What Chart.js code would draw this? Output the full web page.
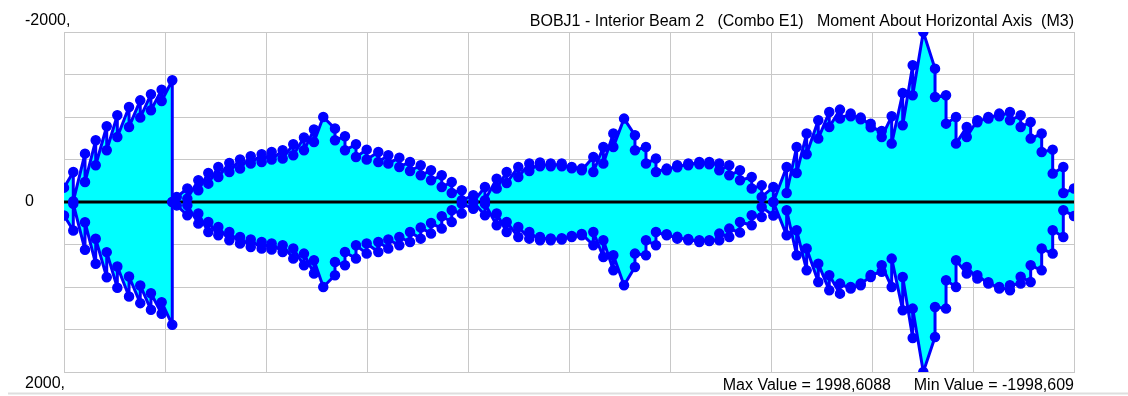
<!DOCTYPE html>
<html>
<head>
<meta charset="utf-8">
<script src="https://cdn.jsdelivr.net/npm/chart.js@4/dist/chart.umd.min.js"></script>
<style>
  html, body { margin: 0; padding: 0; background: #ffffff; }
  #wrap { width: 1128px; height: 396px; position: relative; }
</style>
</head>
<body>
<div id="wrap"><canvas id="c" width="1128" height="396"></canvas></div>
<script>
// Beam stations (0..100 along the member) and M3 moments for the two envelope edges.
const titleText = 'BOBJ1 - Interior Beam 2   (Combo E1)   Moment About Horizontal Axis  (M3)';
const maxLabel = 'Max Value = 1998,6088';
const minLabel = 'Min Value = -1998,609';
const yTickLabels = ['-2000,', '0', '2000,'];
const yTickValues = [-2000, 0, 2000];
const xRange = [0, 100];
const yRange = [-2000, 2000];

const topStations = [
  0, 0.92, 0.92, 2.08, 2.08, 3.14, 3.14, 4.23, 4.23, 5.28, 5.28, 6.44, 6.44, 7.55, 7.55, 8.61, 8.61, 9.67, 9.67, 10.72, 10.72,
  11.16, 12.21, 12.21, 13.30, 13.30, 14.29, 14.29, 15.28, 15.28, 16.37, 16.37, 17.43, 17.43, 18.49, 18.49, 19.57, 19.57,
  20.56, 20.56, 21.65, 21.65, 22.70, 22.70, 23.76, 23.76, 24.75, 24.75, 25.67, 26.83, 26.83, 27.82, 27.82, 28.91, 28.91,
  29.97, 29.97, 31.12, 31.12, 32.11, 32.11, 33.20, 33.20, 34.26, 34.26, 35.32, 35.32, 36.34, 36.34, 37.40, 37.40,
  38.39, 38.39, 39.38, 39.38, 40.52, 40.52,
  41.68, 41.68, 42.84, 42.84, 43.83, 43.83, 44.98, 44.98, 46.07, 46.07, 47.13, 47.13, 48.19, 48.19, 49.28, 49.28,
  50.27, 50.27, 51.26, 51.26, 52.41, 52.41, 53.40, 53.40, 54.39, 54.39, 55.45, 56.53, 56.53, 57.62, 57.62, 58.61, 58.61,
  59.67, 59.67, 60.72, 60.72, 61.81, 61.81, 62.90, 62.90, 63.89, 63.89, 64.88, 64.88, 65.87, 65.87, 66.93, 66.93,
  68.09, 68.09, 69.08, 69.08, 70.23, 70.23,
  71.55, 71.55, 72.54, 72.54, 73.53, 73.53, 74.68, 74.68, 75.77, 75.77, 76.83, 76.83, 77.89, 77.89, 78.88, 78.88,
  79.87, 79.87, 80.96, 80.96, 81.95, 81.95, 83.04, 83.04, 84.03, 84.03, 85.08, 86.24, 86.24, 87.33, 87.33, 88.32, 88.32,
  89.38, 89.38, 90.43, 90.43, 91.52, 91.52, 92.60, 92.60, 93.66, 93.66, 94.72, 94.72, 95.71, 95.71, 96.80, 96.80,
  97.89, 97.89, 98.94, 98.94, 100
];
const topMoments = [
  -169, -353, -10, -569, -235, -726, -432, -891, -609, -1020, -765, -1118, -883, -1196, -993, -1267, -1079, -1322, -1188, -1433, 0,
  -59, -158, -40, -255, -138, -341, -216, -412, -294, -459, -353, -499, -393, -538, -452, -561, -471,
  -588, -499, -608, -511, -679, -549, -758, -608, -852, -706, -1000, -864, -726, -773, -608, -679, -529,
  -616, -499, -588, -471, -549, -452, -522, -412, -471, -365, -432, -314, -373, -255, -314, -176,
  -235, -106, -138, -20, -79, 0,
  -176, -20, -275, -158, -353, -224, -412, -294, -452, -365, -464, -420, -452, -420, -452, -420,
  -412, -396, -393, -373, -529, -353, -647, -452, -805, -647, -981, -785, -608, -647, -452, -511, -353,
  -393, -373, -432, -408, -452, -432, -471, -444, -471, -444, -452, -373, -432, -314, -373, -255,
  -294, -158, -196, -59, -176, 0,
  -412, -106, -647, -341, -805, -561, -961, -746, -1059, -882, -1087, -981, -1040, -1008, -993, -973,
  -922, -879, -835, -765, -1008, -687, -1282, -902, -1608, -1255, -1998.609, -1569, -1235, -1255, -922, -1000, -687,
  -882, -765, -961, -938, -1000, -981, -1040, -1008, -1059, -961, -1020, -882, -941, -746, -805, -588,
  -616, -334, -412, -106, -158
];

const bottomStations = topStations.slice();
const bottomMoments = [
  159, 335, 21, 562, 238, 727, 433, 885, 590, 1009, 759, 1112, 876, 1190, 982, 1268, 1073, 1315, 1179, 1445, 0,
  40, 156, 39, 254, 136, 353, 235, 392, 294, 451, 353, 489, 412, 529, 442, 548, 471,
  560, 489, 588, 509, 666, 548, 745, 607, 842, 686, 1000, 862, 706, 745, 588, 666, 509,
  607, 489, 588, 471, 548, 442, 509, 412, 471, 353, 431, 301, 372, 247, 313, 168,
  235, 98, 136, 20, 79, 0,
  156, 20, 274, 136, 353, 235, 412, 294, 431, 353, 451, 412, 450, 430, 442, 425,
  412, 400, 392, 375, 509, 353, 647, 451, 804, 627, 980, 765, 607, 627, 451, 509, 353,
  392, 380, 431, 410, 451, 435, 471, 450, 460, 451, 451, 372, 412, 313, 360, 235,
  274, 156, 176, 59, 160, 0,
  392, 98, 627, 333, 804, 548, 941, 725, 1039, 862, 1078, 960, 1019, 1000, 980, 960,
  882, 860, 820, 745, 1000, 666, 1274, 882, 1600, 1254, 1998.6088, 1588, 1235, 1254, 921, 1000, 686,
  842, 765, 900, 862, 960, 945, 1019, 1000, 1039, 980, 960, 880, 941, 745, 804, 548,
  607, 333, 412, 98, 165
];

const toPoints = (xs, ys) => xs.map((x, i) => ({ x: x, y: ys[i] }));

const BLUE = '#0000ff';
const CYAN = '#00ffff';
const GRID = '#c8c8c8';
const FONT = '16px "Liberation Sans", Arial, sans-serif';

const envelopeStyle = {
  borderColor: BLUE,
  borderWidth: 3,
  borderJoinStyle: 'round',
  borderCapStyle: 'round',
  backgroundColor: CYAN,
  fill: 'origin',
  pointRadius: 4.5,
  pointBorderWidth: 1.5,
  pointBackgroundColor: BLUE,
  pointBorderColor: BLUE,
  tension: 0,
  order: 1
};

// Axis labels, heading and extreme values, drawn as canvas text.
const textPlugin = {
  id: 'diagramText',
  afterDraw(chart) {
    const ctx = chart.ctx;
    const area = chart.chartArea;
    const y = chart.scales.y;
    ctx.save();
    ctx.font = FONT;
    ctx.fillStyle = '#000000';
    ctx.textBaseline = 'middle';
    ctx.textAlign = 'left';
    yTickLabels.forEach((t, i) => {
      let py = y.getPixelForValue(yTickValues[i]);
      if (i === 0) py -= 11;
      if (i === yTickLabels.length - 1) py += 12;
      ctx.fillText(t, 25, py);
    });
    ctx.textAlign = 'right';
    ctx.textBaseline = 'alphabetic';
    ctx.fillText(titleText, area.right, 26);
    ctx.fillText(minLabel, area.right, 389.5);
    ctx.fillText(maxLabel, area.right - 183, 389.5);
    // thin separator along the foot of the window
    ctx.strokeStyle = '#dedede';
    ctx.lineWidth = 2;
    ctx.beginPath();
    ctx.moveTo(8, 393.5);
    ctx.lineTo(chart.width, 393.5);
    ctx.stroke();
    ctx.restore();
  }
};

new Chart(document.getElementById('c'), {
  type: 'line',
  data: {
    datasets: [
      Object.assign({ label: 'top', data: toPoints(topStations, topMoments) }, envelopeStyle),
      Object.assign({ label: 'bottom', data: toPoints(bottomStations, bottomMoments) }, envelopeStyle),
      {
        label: 'zero',
        data: [{ x: xRange[0], y: 0 }, { x: xRange[1], y: 0 }],
        borderColor: '#000000',
        borderWidth: 3,
        pointRadius: 0,
        fill: false,
        order: 2
      }
    ]
  },
  options: {
    responsive: false,
    animation: false,
    events: [],
    layout: { padding: { left: 64, right: 54, top: 32, bottom: 24 } },
    plugins: {
      legend: { display: false },
      tooltip: { enabled: false },
      filler: { drawTime: 'beforeDatasetsDraw' }
    },
    scales: {
      x: {
        type: 'linear',
        min: xRange[0],
        max: xRange[1],
        ticks: { display: false, stepSize: 10 },
        grid: { color: GRID, lineWidth: 1, drawTicks: false },
        border: { color: GRID, width: 1 }
      },
      y: {
        type: 'linear',
        reverse: true,
        min: yRange[0],
        max: yRange[1],
        ticks: { display: false, stepSize: 500 },
        grid: { color: GRID, lineWidth: 1, drawTicks: false },
        border: { color: GRID, width: 1 }
      }
    }
  },
  plugins: [textPlugin]
});
</script>
</body>
</html>
